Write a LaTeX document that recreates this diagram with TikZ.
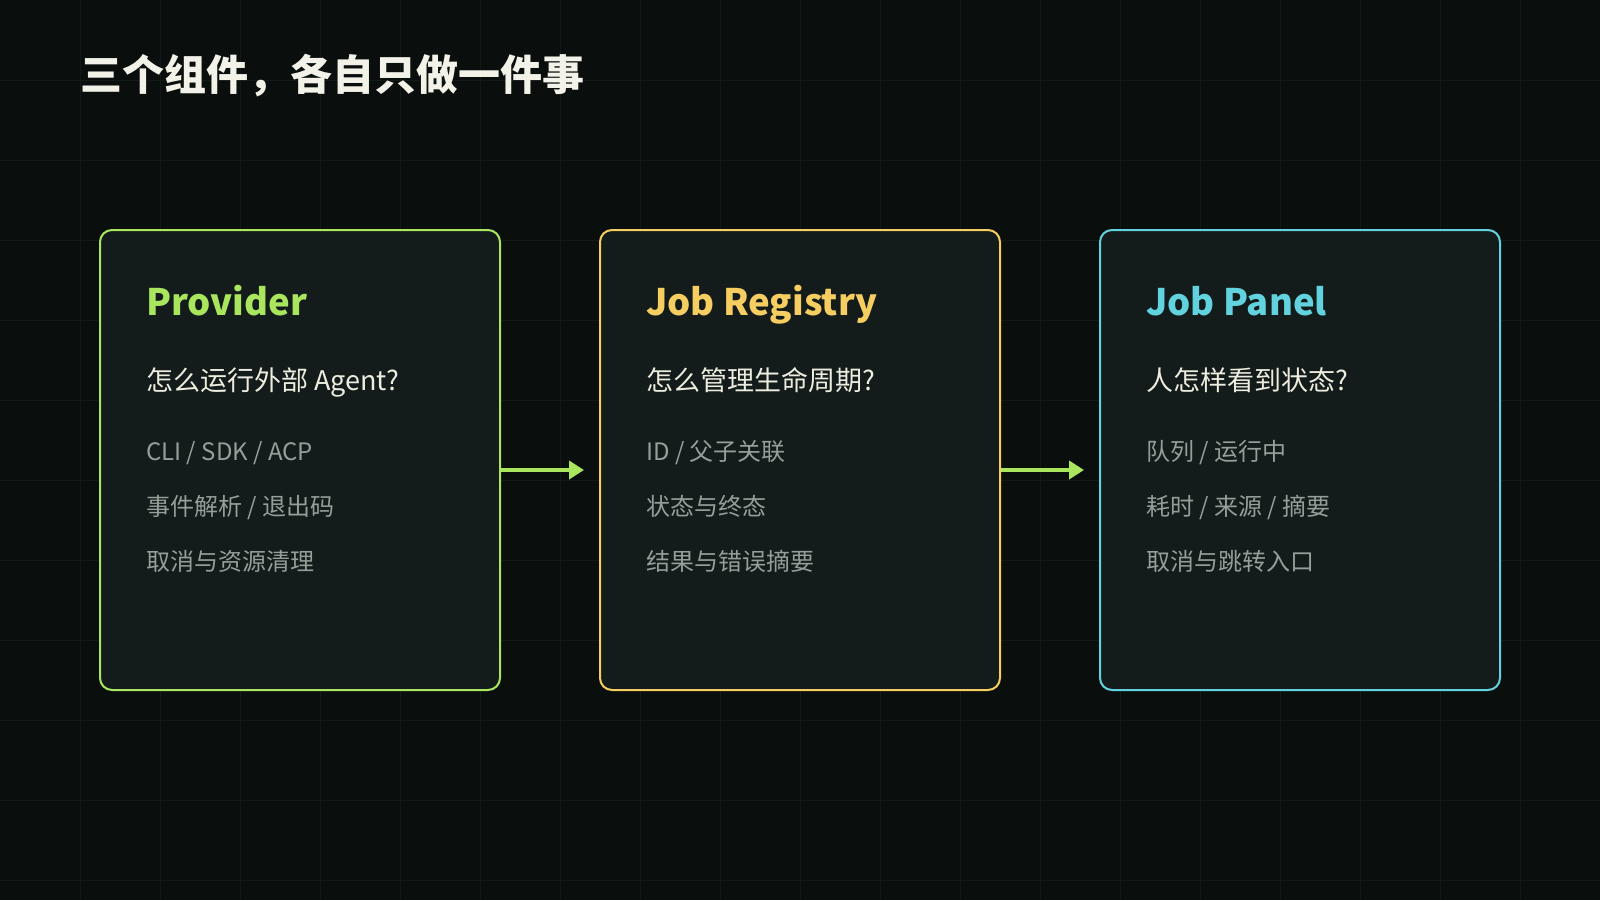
\documentclass[tikz,border=0pt]{standalone}
\usepackage{fontspec}
\setmainfont{Noto Sans CJK SC}
\usetikzlibrary{arrows.meta}
\definecolor{bgc}{HTML}{0A0F0E}
\definecolor{gridc}{HTML}{121A18}
\definecolor{boxfill}{HTML}{131C1B}
\definecolor{cgreen}{HTML}{A9E65E}
\definecolor{cyellow}{HTML}{F5CD60}
\definecolor{ccyan}{HTML}{62D3DE}
\definecolor{ctitle}{HTML}{F2F2E8}
\definecolor{cquest}{HTML}{ECECDF}
\definecolor{citem}{HTML}{959E98}
\tikzset{
  gridline/.style={draw=gridc, line width=1pt},
  card/.style={rounded corners=12pt, line width=2pt, fill=boxfill, minimum width=400pt, minimum height=460pt, inner sep=0pt},
  cardtitle/.style={anchor=base west, inner sep=0pt, font=\bfseries\fontsize{36.5}{40}\selectfont},
  quest/.style={anchor=base west, inner sep=0pt, text=cquest, font=\fontsize{27}{30}\selectfont},
  item/.style={anchor=base west, inner sep=0pt, text=citem, font=\fontsize{24}{28}\selectfont},
  flow/.style={draw=cgreen, line width=4pt, -{Triangle[length=15pt,width=18pt]}},
}
\begin{document}
\begin{tikzpicture}[x=1pt,y=-1pt]
\fill[bgc] (0,0) rectangle (1600,900);
\useasboundingbox (0,0) rectangle (1600,900);
\foreach \i in {80,160,...,1520} \draw[gridline] (\i,0) -- (\i,900);
\foreach \j in {80,160,...,880} \draw[gridline] (0,\j) -- (1600,\j);
\node[anchor=base west, inner sep=0pt, text=ctitle, font=\bfseries\fontsize{42}{46}\selectfont] (title) at (80,90) {三个组件，各自只做一件事};
% cards
\node[card, draw=cgreen] (prov) at (300,460) {};
\node[card, draw=cyellow] (reg) at (800,460) {};
\node[card, draw=ccyan] (panel) at (1300,460) {};
% card 1
\node[cardtitle, text=cgreen] (provT) at (146,315) {Provider};
\node[quest] (provQ) at (146,390) {怎么运行外部 Agent?};
\node[item] (provA) at (146,460) {CLI / SDK / ACP};
\node[item] (provB) at (146,515) {事件解析 / 退出码};
\node[item] (provC) at (146,570) {取消与资源清理};
% card 2
\node[cardtitle, text=cyellow] (regT) at (646,315) {Job Registry};
\node[quest] (regQ) at (646,390) {怎么管理生命周期?};
\node[item] (regA) at (646,460) {ID / 父子关联};
\node[item] (regB) at (646,515) {状态与终态};
\node[item] (regC) at (646,570) {结果与错误摘要};
% card 3
\node[cardtitle, text=ccyan] (panT) at (1146,315) {Job Panel};
\node[quest] (panQ) at (1146,390) {人怎样看到状态?};
\node[item] (panA) at (1146,460) {队列 / 运行中};
\node[item] (panB) at (1146,515) {耗时 / 来源 / 摘要};
\node[item] (panC) at (1146,570) {取消与跳转入口};
% arrows
\draw[flow] ([yshift=-10pt]prov.east) -- ([xshift=-15pt,yshift=-10pt]reg.west);
\draw[flow] ([yshift=-10pt]reg.east) -- ([xshift=-15pt,yshift=-10pt]panel.west);
\end{tikzpicture}
\end{document}
